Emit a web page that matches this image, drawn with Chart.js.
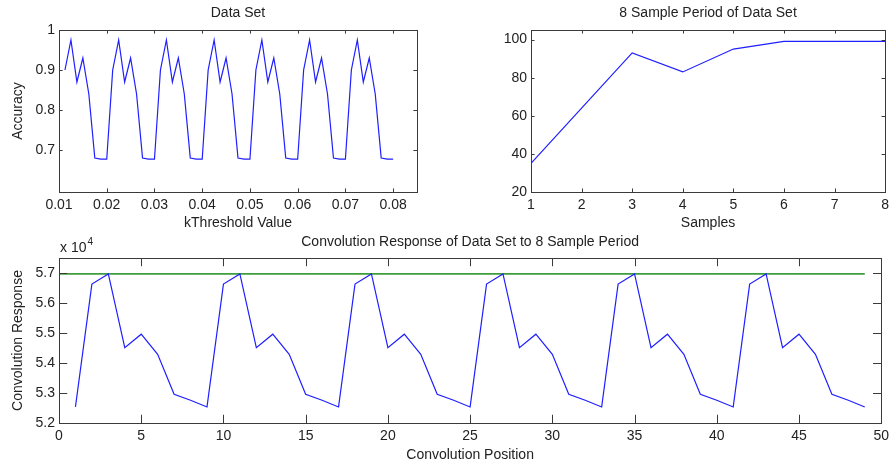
<!DOCTYPE html>
<html>
<head>
<meta charset="utf-8">
<script src="https://cdn.jsdelivr.net/npm/chart.js@4"></script>
<style>
  body { margin: 0; background: #fff; }
  #wrap { position: relative; width: 894px; height: 465px; }
  canvas { position: absolute; }
</style>
</head>
<body>
<div id="wrap">
  <canvas id="dataSet" style="left:0;top:0;width:447px;height:232px" width="447" height="232"></canvas>
  <canvas id="period" style="left:447px;top:0;width:447px;height:232px" width="447" height="232"></canvas>
  <canvas id="conv" style="left:0;top:232px;width:894px;height:233px" width="894" height="233"></canvas>
</div>
<script>
// Data Set: accuracy vs kThreshold
const thresholds = [
  0.01125, 0.0125, 0.01375, 0.015, 0.01625, 0.0175, 0.01875, 0.02,
  0.02125, 0.0225, 0.02375, 0.025, 0.02625, 0.0275, 0.02875, 0.03,
  0.03125, 0.0325, 0.03375, 0.035, 0.03625, 0.0375, 0.03875, 0.04,
  0.04125, 0.0425, 0.04375, 0.045, 0.04625, 0.0475, 0.04875, 0.05,
  0.05125, 0.0525, 0.05375, 0.055, 0.05625, 0.0575, 0.05875, 0.06,
  0.06125, 0.0625, 0.06375, 0.065, 0.06625, 0.0675, 0.06875, 0.07,
  0.07125, 0.0725, 0.07375, 0.075, 0.07625, 0.0775, 0.07875, 0.08
];
const accuracy = [
  0.90, 0.975, 0.87, 0.93, 0.84, 0.68, 0.677, 0.677,
  0.90, 0.975, 0.87, 0.93, 0.84, 0.68, 0.677, 0.677,
  0.90, 0.975, 0.87, 0.93, 0.84, 0.68, 0.677, 0.677,
  0.90, 0.975, 0.87, 0.93, 0.84, 0.68, 0.677, 0.677,
  0.90, 0.975, 0.87, 0.93, 0.84, 0.68, 0.677, 0.677,
  0.90, 0.975, 0.87, 0.93, 0.84, 0.68, 0.677, 0.677,
  0.90, 0.975, 0.87, 0.93, 0.84, 0.68, 0.677, 0.677
];
const dataSetXTicks = [0.01, 0.02, 0.03, 0.04, 0.05, 0.06, 0.07, 0.08];
const dataSetYTicks = [0.7, 0.8, 0.9, 1];

// 8 sample period
const samples = [1, 2, 3, 4, 5, 6, 7, 8];
const periodValues = [35, 64, 93, 83, 95, 99, 99, 99];
const periodXTicks = [1, 2, 3, 4, 5, 6, 7, 8];
const periodYTicks = [20, 40, 60, 80, 100];

// Convolution response
const positions = [
  1, 2, 3, 4, 5, 6, 7, 8, 9, 10, 11, 12, 13, 14, 15, 16, 17, 18, 19, 20,
  21, 22, 23, 24, 25, 26, 27, 28, 29, 30, 31, 32, 33, 34, 35, 36, 37, 38, 39, 40,
  41, 42, 43, 44, 45, 46, 47, 48, 49
];
const response = [
  52535, 56630, 56970, 54510, 54960, 54290, 52960, 52760,
  52535, 56630, 56970, 54510, 54960, 54290, 52960, 52760,
  52535, 56630, 56970, 54510, 54960, 54290, 52960, 52760,
  52535, 56630, 56970, 54510, 54960, 54290, 52960, 52760,
  52535, 56630, 56970, 54510, 54960, 54290, 52960, 52760,
  52535, 56630, 56970, 54510, 54960, 54290, 52960, 52760,
  52535
];
const maxLineX = [0, 49];
const maxLineY = [56970, 56970];
const convXTicks = [0, 5, 10, 15, 20, 25, 30, 35, 40, 45, 50];
const convYTicks = [52000, 53000, 54000, 55000, 56000, 57000];

const FONT = { family: "'Liberation Sans', Arial, sans-serif", size: 14 };
const TEXT = "#222";
const BLUE = "#1f1fff";
const GREEN = "#3c9e3c";

Chart.defaults.font.family = FONT.family;
Chart.defaults.font.size = FONT.size;
Chart.defaults.color = TEXT;

function pts(xs, ys) {
  return xs.map((x, i) => ({ x: x, y: ys[i] }));
}

// MATLAB style box with inward ticks on all four sides
const boxPlugin = {
  id: "box",
  afterDatasetsDraw(chart) {
    const { ctx, chartArea: a, scales } = chart;
    const len = Math.max(a.right - a.left, a.bottom - a.top) * 0.01;
    ctx.save();
    ctx.strokeStyle = "#3a3a3a";
    ctx.lineWidth = 1;
    ctx.beginPath();
    scales.x.ticks.forEach(t => {
      const px = Math.round(scales.x.getPixelForValue(t.value)) + 0.5;
      ctx.moveTo(px, a.bottom); ctx.lineTo(px, a.bottom - len);
      ctx.moveTo(px, a.top); ctx.lineTo(px, a.top + len);
    });
    scales.y.ticks.forEach(t => {
      const py = Math.round(scales.y.getPixelForValue(t.value)) + 0.5;
      ctx.moveTo(a.left, py); ctx.lineTo(a.left + len, py);
      ctx.moveTo(a.right, py); ctx.lineTo(a.right - len, py);
    });
    ctx.stroke();
    ctx.strokeRect(Math.round(a.left) + 0.5, Math.round(a.top) + 0.5,
      Math.round(a.right - a.left), Math.round(a.bottom - a.top));
    ctx.restore();
  }
};

function setTicks(list) {
  return scale => { scale.ticks = list.map(v => ({ value: v })); };
}

function makeChart(id, cfg) {
  return new Chart(document.getElementById(id), {
    type: "line",
    data: { datasets: cfg.datasets },
    options: {
      responsive: false,
      animation: false,
      events: [],
      layout: { padding: cfg.padding },
      elements: { point: { radius: 0 }, line: { tension: 0, borderWidth: 1.2 } },
      plugins: {
        legend: { display: false },
        tooltip: { enabled: false },
        title: {
          display: true, text: cfg.title, color: TEXT, fullSize: false,
          font: { size: 14, weight: "normal" }, padding: cfg.titlePad
        }
      },
      scales: {
        x: {
          type: "linear", min: cfg.xMin, max: cfg.xMax,
          afterBuildTicks: setTicks(cfg.xTicks),
          afterFit: s => { s.height = cfg.xHeight; },
          grid: { display: false, drawTicks: false },
          border: { display: false },
          ticks: { padding: 5, maxRotation: 0, autoSkip: false, callback: cfg.xFmt },
          title: { display: !!cfg.xTitle, text: cfg.xTitle, padding: cfg.xTitlePad }
        },
        y: {
          type: "linear", min: cfg.yMin, max: cfg.yMax,
          afterBuildTicks: setTicks(cfg.yTicks),
          afterFit: s => { s.width = cfg.yWidth; },
          grid: { display: false, drawTicks: false },
          border: { display: false },
          ticks: { padding: 4, autoSkip: false, callback: cfg.yFmt },
          title: { display: !!cfg.yTitle, text: cfg.yTitle, padding: { top: 9.6, bottom: 0 } }
        }
      }
    },
    plugins: [boxPlugin].concat(cfg.extra || [])
  });
}

makeChart("dataSet", {
  datasets: [{ data: pts(thresholds, accuracy), borderColor: BLUE }],
  padding: { left: 0, right: 30, top: 0, bottom: 0 },
  title: "Data Set", titlePad: { top: 4.5, bottom: 8.7 },
  xMin: 0.01, xMax: 0.085, xTicks: dataSetXTicks, xHeight: 40,
  xFmt: v => v.toFixed(2),
  xTitle: "kThreshold Value", xTitlePad: { top: 0, bottom: 0.6 },
  yMin: 0.595, yMax: 1, yTicks: dataSetYTicks, yWidth: 59,
  yFmt: v => String(v),
  yTitle: "Accuracy"
});

makeChart("period", {
  datasets: [{ data: pts(samples, periodValues), borderColor: BLUE }],
  padding: { left: 0, right: 7, top: 0, bottom: 0 },
  title: "8 Sample Period of Data Set", titlePad: { top: 4.5, bottom: 8.7 },
  xMin: 1, xMax: 8, xTicks: periodXTicks, xHeight: 40,
  xFmt: v => String(v),
  xTitle: "Samples", xTitlePad: { top: 0, bottom: 0.6 },
  yMin: 20, yMax: 105, yTicks: periodYTicks, yWidth: 84,
  yFmt: v => String(v)
});

// "x 10^4" exponent label above the y axis
const exponentLabel = {
  id: "exponent",
  afterDraw(chart) {
    const { ctx, chartArea: a } = chart;
    ctx.save();
    ctx.fillStyle = TEXT;
    ctx.textBaseline = "alphabetic";
    ctx.font = "14px " + FONT.family;
    ctx.fillText("x 10", a.left + 1, a.top - 6);
    const w = ctx.measureText("x 10").width;
    ctx.font = "10px " + FONT.family;
    ctx.fillText("4", a.left + 1 + w + 1, a.top - 13);
    ctx.restore();
  }
};

makeChart("conv", {
  datasets: [
    { data: pts(positions, response), borderColor: BLUE },
    { data: pts(maxLineX, maxLineY), borderColor: GREEN, borderWidth: 1.6 }
  ],
  padding: { left: 0, right: 8, top: 0, bottom: 0 },
  title: "Convolution Response of Data Set to 8 Sample Period", titlePad: { top: 1.3, bottom: 7.9 },
  xMin: 0, xMax: 50, xTicks: convXTicks, xHeight: 42,
  xFmt: v => String(v),
  xTitle: "Convolution Position", xTitlePad: { top: 0, bottom: 1.6 },
  yMin: 52000, yMax: 57500, yTicks: convYTicks, yWidth: 59,
  yFmt: v => (v / 1e4).toFixed(1),
  yTitle: "Convolution Response",
  extra: [exponentLabel]
});
</script>
</body>
</html>
